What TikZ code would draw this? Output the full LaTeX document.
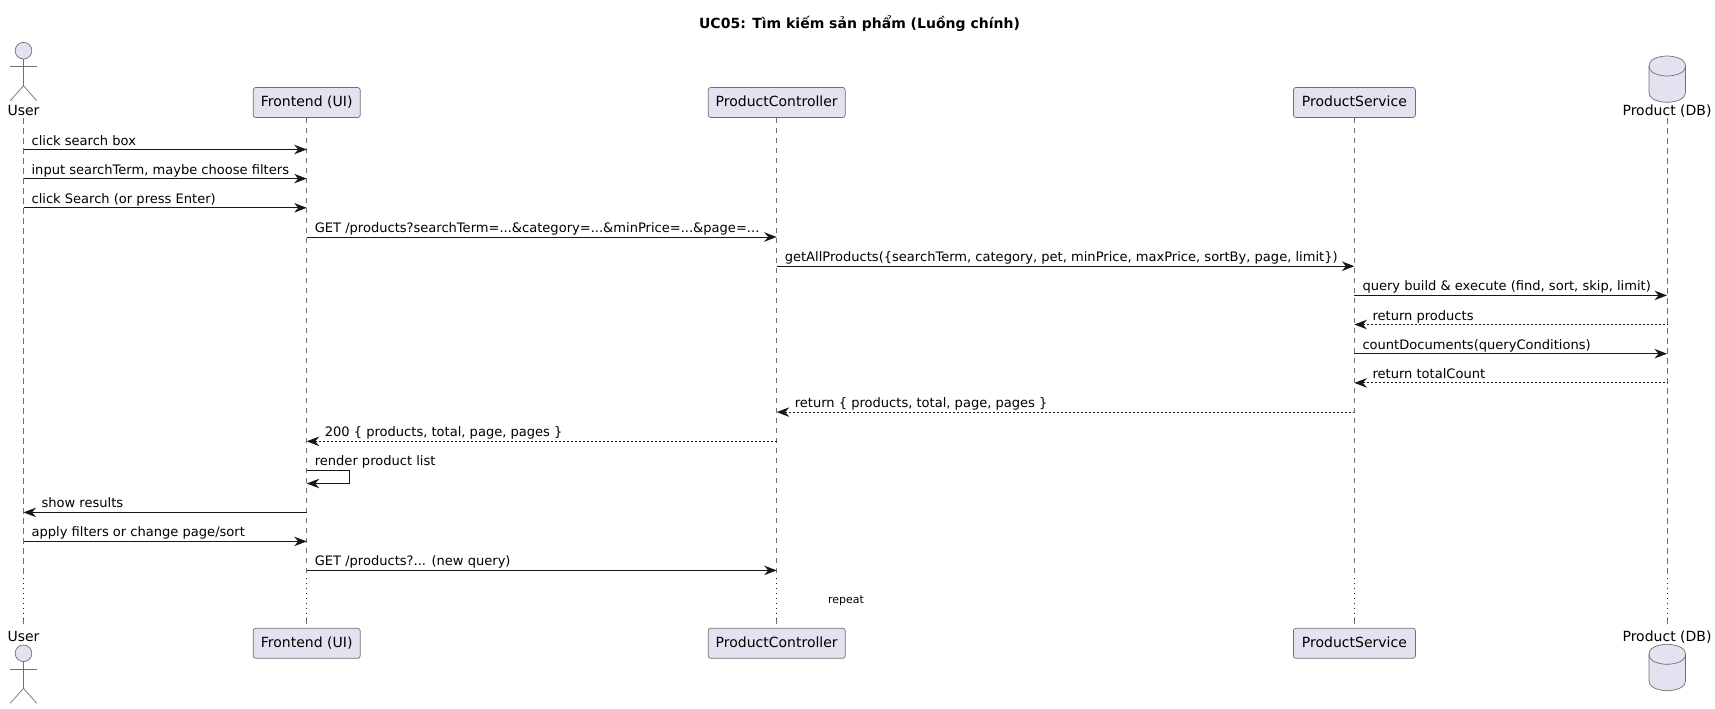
\documentclass[tikz,border=0pt]{standalone}
\usepackage{fontspec}
\setmainfont{DejaVu Sans}
\usepackage{xcolor}
\usetikzlibrary{arrows.meta}
\definecolor{partfill}{HTML}{E2E2F0}
\definecolor{partline}{HTML}{181818}
\definecolor{thinline}{HTML}{707070}
\tikzset{
  part/.style={draw=thinline, line width=0.7pt, fill=partfill, rounded corners=2.5pt, minimum height=30pt, inner sep=0pt, font=\fontsize{14}{16}\selectfont, text height=11pt, text depth=3pt},
  iconlabel/.style={inner sep=0pt, font=\fontsize{14}{16}\selectfont, text height=11pt, text depth=3pt},
  icon/.style={draw=thinline, line width=0.7pt, fill=partfill},
  limb/.style={draw=thinline, line width=0.7pt},
  msg/.style={draw=partline, line width=1pt},
  toright/.style={msg, -{Stealth[length=12.5pt,width=9.5pt,inset=4pt]}},
  toleft/.style={msg, {Stealth[length=12.5pt,width=9.5pt,inset=4pt]}-},
  backleft/.style={toleft, dash pattern=on 2pt off 2pt},
  msgtext/.style={pos=0, anchor=base west, inner sep=0pt, yshift=4.5pt, font=\fontsize{13.05}{15}\selectfont},
  rlabel/.style={msgtext, xshift=7.6pt},
  llabel/.style={msgtext, xshift=17.6pt},
  lifedash/.style={draw=thinline, line width=0.7pt, dash pattern=on 5.5pt off 4.5pt},
  lifedot/.style={draw=partline, line width=0.8pt, dash pattern=on 1pt off 4pt}
}

\begin{document}
\begin{tikzpicture}[x=1pt,y=-1pt]
  \useasboundingbox (0,0) rectangle (1715,709);

  \node[font=\bfseries\fontsize{14}{16}\selectfont, inner sep=0pt] (title) at (859.5,24) {UC05: Tìm kiếm sản phẩm (Luồng chính)};

  % participants, top
  \node[iconlabel] (user) at (23.5,111) {User};
  \node[part, minimum width=107pt] (front) at (306.7,102.5) {Frontend (UI)};
  \node[part, minimum width=137pt] (ctrl) at (776.7,102.5) {ProductController};
  \node[part, minimum width=122pt] (svc) at (1354.4,102.5) {ProductService};
  \node[iconlabel] (db) at (1667,111) {Product (DB)};

  % participants, bottom
  \node[iconlabel] (userb) at (23.5,637.5) {User};
  \node[part, minimum width=107pt] (frontb) at (306.7,643.3) {Frontend (UI)};
  \node[part, minimum width=137pt] (ctrlb) at (776.7,643.3) {ProductController};
  \node[part, minimum width=122pt] (svcb) at (1354.4,643.3) {ProductService};
  \node[iconlabel] (dbb) at (1667,637.5) {Product (DB)};

  % actor
  \draw[icon] (23.5,50.7) circle[radius=8.3pt];
  \draw[limb] (23.5,59) -- (23.5,85.7);
  \draw[limb] (10.3,66.3) -- (36.7,66.3);
  \draw[limb] (10.3,100.7) -- (23.5,85.7) -- (36.7,100.7);

  \draw[icon] (23.5,653.3) circle[radius=8.3pt];
  \draw[limb] (23.5,661.6) -- (23.5,688.3);
  \draw[limb] (10.3,668.9) -- (36.7,668.9);
  \draw[limb] (10.3,703.3) -- (23.5,688.3) -- (36.7,703.3);

  % database
  \draw[icon] (1649,66) .. controls (1649,56) and (1667,56) .. (1667,56) .. controls (1667,56) and (1685.5,56) .. (1685.5,66) -- (1685.5,92.3) .. controls (1685.5,102.3) and (1667,102.3) .. (1667,102.3) .. controls (1667,102.3) and (1649,102.3) .. (1649,92.3) -- cycle;
  \draw[limb] (1649,66) .. controls (1649,76) and (1667,76) .. (1667,76) .. controls (1667,76) and (1685.5,76) .. (1685.5,66);

  \draw[icon] (1649,654.3) .. controls (1649,644.3) and (1667,644.3) .. (1667,644.3) .. controls (1667,644.3) and (1685.5,644.3) .. (1685.5,654.3) -- (1685.5,680.7) .. controls (1685.5,690.7) and (1667,690.7) .. (1667,690.7) .. controls (1667,690.7) and (1649,690.7) .. (1649,680.7) -- cycle;
  \draw[limb] (1649,654.3) .. controls (1649,664.3) and (1667,664.3) .. (1667,664.3) .. controls (1667,664.3) and (1685.5,664.3) .. (1685.5,654.3);

  % lifelines
  \coordinate (brka) at (0,574);
  \coordinate (brkb) at (0,578);
  \coordinate (brkc) at (0,619);
  \coordinate (brkd) at (0,624);

  \draw[lifedash] (user.south) -- (user |- brka);
  \draw[lifedot] (user |- brkb) -- (user |- brkc);
  \draw[lifedash] (user |- brkc) -- (user |- brkd);

  \draw[lifedash] (front.south) -- (front |- brka);
  \draw[lifedot] (front |- brkb) -- (front |- brkc);
  \draw[lifedash] (front |- brkc) -- (front |- brkd);

  \draw[lifedash] (ctrl.south) -- (ctrl |- brka);
  \draw[lifedot] (ctrl |- brkb) -- (ctrl |- brkc);
  \draw[lifedash] (ctrl |- brkc) -- (ctrl |- brkd);

  \draw[lifedash] (svc.south) -- (svc |- brka);
  \draw[lifedot] (svc |- brkb) -- (svc |- brkc);
  \draw[lifedash] (svc |- brkc) -- (svc |- brkd);

  \draw[lifedash] (db.south) -- (db |- brka);
  \draw[lifedot] (db |- brkb) -- (db |- brkc);
  \draw[lifedash] (db |- brkc) -- (db |- brkd);

  % rows of the messages
  \coordinate (ma) at (0,149.5);
  \coordinate (mb) at (0,178.6);
  \coordinate (mc) at (0,207.8);
  \coordinate (md) at (0,237);
  \coordinate (me) at (0,266.2);
  \coordinate (mf) at (0,295.4);
  \coordinate (mg) at (0,324.5);
  \coordinate (mh) at (0,353.7);
  \coordinate (mi) at (0,382.9);
  \coordinate (mj) at (0,412.1);
  \coordinate (mk) at (0,441.3);
  \coordinate (ml) at (0,470.4);
  \coordinate (mm) at (0,483.5);
  \coordinate (mn) at (0,512.4);
  \coordinate (mo) at (0,541.4);
  \coordinate (mp) at (0,570.4);
  \coordinate (selfx) at (349.5,0);

  \draw[toright] (user |- ma) -- node[rlabel] (la) {click search box} (front |- ma);
  \draw[toright] (user |- mb) -- node[rlabel] (lb) {input searchTerm, maybe choose filters} (front |- mb);
  \draw[toright] (user |- mc) -- node[rlabel] (lc) {click Search (or press Enter)} (front |- mc);
  \draw[toright] (front |- md) -- node[rlabel] (ld) {GET /products?searchTerm=...\&category=...\&minPrice=...\&page=...} (ctrl |- md);
  \draw[toright] (ctrl |- me) -- node[rlabel] (le) {getAllProducts(\{searchTerm, category, pet, minPrice, maxPrice, sortBy, page, limit\})} (svc |- me);
  \draw[toright] (svc |- mf) -- node[rlabel] (lf) {query build \& execute (find, sort, skip, limit)} (db |- mf);
  \draw[backleft] (svc |- mg) -- node[llabel] (lg) {return products} (db |- mg);
  \draw[toright] (svc |- mh) -- node[rlabel] (lh) {countDocuments(queryConditions)} (db |- mh);
  \draw[backleft] (svc |- mi) -- node[llabel] (li) {return totalCount} (db |- mi);
  \draw[backleft] (ctrl |- mj) -- node[llabel] (lj) {return \{ products, total, page, pages \}} (svc |- mj);
  \draw[backleft] (front |- mk) -- node[llabel] (lk) {200 \{ products, total, page, pages \}} (ctrl |- mk);
  \draw[toright] (front |- ml) -- node[rlabel] (ll) {render product list} (selfx |- ml) -- (selfx |- mm) -- (front |- mm);
  \draw[toleft] (user |- mn) -- node[llabel] (ln) {show results} (front |- mn);
  \draw[toright] (user |- mo) -- node[rlabel] (lo) {apply filters or change page/sort} (front |- mo);
  \draw[toright] (front |- mp) -- node[rlabel] (lp) {GET /products?... (new query)} (ctrl |- mp);

  \node[font=\fontsize{11}{13}\selectfont, inner sep=0pt] (rep) at (846,600.5) {repeat};
\end{tikzpicture}
\end{document}
